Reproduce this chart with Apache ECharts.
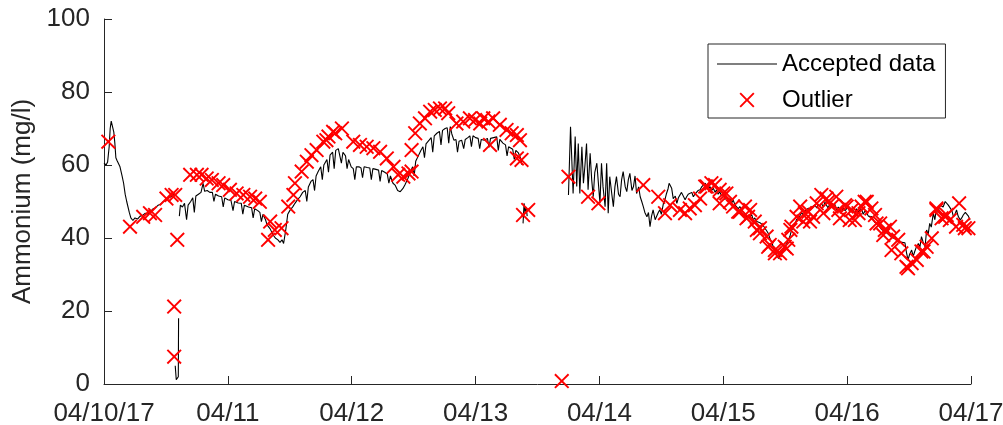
<!DOCTYPE html>
<html>
<head>
<meta charset="utf-8">
<script src="https://cdn.jsdelivr.net/npm/echarts@6/dist/echarts.min.js"></script>
<style>
html,body{margin:0;padding:0;background:#fff;}
#chart{width:1003px;height:425px;}
</style>
</head>
<body>
<div id="chart"></div>
<script>
// x tick labels (one per day, axis in hours from 04/10/17 00:00)
var xTickLabels = ['04/10/17','04/11','04/12','04/13','04/14','04/15','04/16','04/17'];

// Accepted data: hours and values (null = gap)
var lineHours = [
0,0.4,0.7,0.9,1.0,1.2,1.4,1.6,1.9,2.1,2.3,2.5,2.8,3.1,3.5,3.8,4.1,4.4,4.6,4.9,5.2,5.6,6.0,6.5,7.0,7.5,8.0,8.5,9.0,9.5,10.0,10.5,11.0,11.5,12.0,12.5,13.0,13.4,13.7,
13.75,
13.8,14.0,14.2,14.4,14.45,
14.5,
14.6,14.8,15.2,15.6,16.0,16.3,16.8,17.2,17.5,17.8,18.3,18.8,19.2,19.5,20.0,20.5,21.0,21.3,21.6,22.2,22.8,23.1,23.4,24.0,24.6,25.0,25.3,26.0,26.6,26.9,27.2,28.0,28.6,28.9,29.2,29.8,30.2,30.5,30.8,31.3,31.6,32.2,32.7,33.2,33.7,34.1,34.5,34.8,35.2,35.6,36.0,36.6,37.0,37.5,38.0,38.5,39.0,39.3,39.6,40.1,40.5,40.8,41.1,41.5,42.0,42.3,42.6,43.2,43.5,43.8,44.3,44.6,44.9,45.4,45.7,46.0,46.3,46.8,47.1,47.4,47.9,48.3,48.6,48.9,49.4,49.8,50.1,50.4,51.0,51.5,51.8,52.1,52.7,53.2,53.5,53.8,54.4,54.9,55.2,55.5,56.0,56.4,56.9,57.4,57.9,58.3,58.8,59.3,59.8,60.1,60.4,60.9,61.4,61.8,62.1,62.4,63.0,63.4,63.7,64.0,64.5,65.0,65.3,65.6,66.1,66.5,66.8,67.1,67.4,67.8,68.2,68.5,68.8,69.3,69.7,70.0,70.5,70.9,71.2,71.5,72.0,72.5,72.8,73.1,73.7,74.3,74.6,74.9,75.5,76.1,76.4,76.7,77.3,77.8,78.1,78.4,78.7,79.2,79.5,79.8,80.3,80.7,81.0,
81.1,
81.2,81.4,81.6,81.8,82.0,
82.2,
90.0,90.4,90.9,91.3,91.6,91.9,92.2,92.6,92.9,93.2,93.5,93.8,94.2,94.5,94.8,95.1,95.5,95.8,96.1,96.4,96.7,97.1,97.4,97.7,98.0,98.4,98.7,99.0,99.3,99.7,100.0,100.3,100.6,101.0,101.3,101.6,101.9,102.3,102.6,102.9,103.2,103.6,103.9,104.2,104.5,104.8,105.2,105.5,105.8,106.1,106.4,106.8,107.1,107.4,107.7,108.0,108.4,108.7,109.0,109.3,109.5,109.8,110.0,110.3,110.7,111.0,111.3,111.6,111.9,112.2,112.6,112.9,113.2,113.5,113.9,114.2,114.5,114.8,115.1,115.5,115.8,116.1,116.5,116.8,117.1,117.4,117.7,118.1,118.4,118.7,119.0,119.3,119.7,120.0,120.3,120.6,121.0,121.3,121.6,121.9,122.3,122.6,122.9,123.2,123.6,123.9,124.2,124.5,124.8,125.2,125.5,125.8,126.1,126.5,126.8,127.1,127.4,127.7,128.0,128.4,128.7,129.0,129.3,129.7,130.0,130.4,130.7,131.0,131.3,131.6,131.9,132.3,132.6,132.9,133.2,133.6,133.9,134.2,134.6,134.9,135.2,135.5,135.9,136.2,136.5,136.8,137.1,137.4,137.8,138.1,138.4,138.7,139.0,139.4,139.7,140.0,140.3,140.7,141.0,141.3,141.6,141.9,142.3,142.6,142.9,143.2,143.6,143.9,144.2,144.5,144.9,145.2,145.5,145.8,146.2,146.5,146.8,147.1,147.5,147.8,148.1,148.4,148.8,149.1,149.4,149.7,150.1,150.4,150.7,151.0,151.4,151.7,152.0,152.3,152.6,152.9,153.3,153.6,153.9,154.2,154.6,154.9,155.2,155.5,155.8,156.1,156.5,156.8,157.1,157.4,157.8,158.1,158.4,158.7,159.1,159.4,159.7,160.0,160.3,160.7,161.0,161.3,161.6,162.0,162.3,162.6,163.0,163.3,163.6,163.9,164.3,164.6,164.9,165.2,165.5,165.9,166.2,166.5,166.9,167.2,167.5,167.8
];
var lineValues = [
60.5,60,60.8,60.5,65,70,72,71.5,69,66,62,61.3,61,59.5,57,55,52,50,49.5,47,45.5,44.8,45.5,45.2,46,46.2,46.8,46.5,47.3,48,48.3,49,49.3,50,50.3,51,51.3,52,51.5,
null,
5,1.2,0.8,2,18,
null,
46,49,48.5,49.5,45,49,50,51,47,51.5,52,52.5,55,52.8,53,52.5,52.5,50,52,51.5,51.3,48.5,51,50.5,50.3,47.5,50,49.6,49.5,46.5,49,48.5,48.3,45.5,48,47.5,47,44.5,46.5,45,43.6,42.5,41,40,39.5,38.8,39.5,38.5,42,46.5,47.5,48.6,49.5,50.5,51.3,52.5,53,50,54,55.5,56,53,57,58.2,59.5,56,60,61.5,58,62.7,63.5,59,64,64.5,64.6,60.5,63.5,62.5,59,61.5,59.5,59,56,59.5,59.5,59.2,56.5,59.5,59.3,59.2,56,59,58.8,58.6,55.5,58.5,58,57.5,55,57,55,54.5,53,52.7,53.5,54.5,56,57.8,59.5,57,61,62.5,64,65,62,65.8,66.8,67.5,63.5,68,68.7,69.2,65.5,69.5,70,70.2,66,70.5,68.5,66.8,67,63.5,66.5,66.8,64.5,67,67.5,68,65,68,67.5,67.3,64.5,67,66.8,67.3,64.8,67.3,67.5,67.7,64,67,66,65.5,62.5,65,64.6,64.3,61.5,64,63.3,62,60,
null,
44,49.5,47,48.5,46,
null,
51.8,70.5,52.2,67.8,54.1,65.9,52.2,65,55,60,65.9,53.2,63.2,56,51.3,58,60.5,55,49.5,60.5,54,48.6,60.5,46.8,56.8,52,48.6,54,56.8,52,51.3,56,58.2,54,52.7,56,57.7,53,54.1,57,52.2,54,51.3,50,48.6,47,45.8,47,43.1,46,47.7,45,44.9,47,47.7,46.5,49.5,50.5,52.2,53.5,55,54.5,53.6,50.8,51.5,49.5,51,51.3,52.5,52.7,50.5,51.3,52,51.8,52.5,51.3,52,52.2,53,53.2,54,54.1,55,54.5,53.5,54.1,53,53.6,52.5,53.2,52,52.7,51.5,52.2,50.5,51.3,50,50.8,49.5,50.4,49,49.5,48,48.6,47.5,47.8,46.5,46.8,45.5,45.8,46.5,44.9,45.5,44.5,45,44.2,44.5,43.5,43,42,41.3,40,39,37.6,36.5,35.2,34.4,35.5,35.3,36.5,37.6,38.5,39.5,40.4,42,43,44,45,45.5,45.8,47,46.2,47.5,47.2,48.2,47.5,48.5,48.1,49,48.2,49.2,48.6,49.5,48.5,49.8,49,48.2,49.5,48.3,48.6,49.3,47.8,48.5,48.1,47,48.3,47.5,47.7,48.5,47,48,47.7,46.8,48,47.2,47.2,48,46.5,47.5,46.8,46,45.5,45.8,44.9,44.2,44.5,43.5,43.1,42.3,42.8,41.7,41.7,41,40.8,40.2,40.4,39.8,40,39.3,39.5,38.8,39,38.7,36,34,35.5,36.7,35,36.3,37.5,38.5,37.5,40.4,39,37.6,42.2,41,44,43,46.8,45,48.1,47,49,49.5,48.5,50,49.6,49,48.6,47.5,45.8,46.5,47.7,46,44.9,45.5,46.3,47,46.8,46,44.9
];

// Outliers: hours and values
var outlierHours = [
0.84,5.04,7.6,8.9,9.9,12.1,13.1,13.8,14.2,13.6,13.6,16.7,18.0,18.9,19.9,20.9,22.2,23.1,24.4,25.7,27.0,28.3,29.3,30.2,31.8,32.2,33.1,34.4,35.7,36.7,37.0,38.3,39.3,40.2,41.2,42.5,43.1,43.5,44.4,44.8,46.1,48.3,49.6,50.9,52.2,53.5,54.8,56.1,57.0,58.0,59.0,59.6,59.6,60.3,61.2,62.2,63.2,64.1,65.1,66.1,66.7,68.3,69.6,70.9,71.9,72.9,73.5,74.5,74.8,75.4,76.7,78.0,79.0,80.0,80.6,80.0,80.9,81.2,82.2,
88.7,90.0,93.8,95.8,104.5,107.4,108.7,109.7,111.6,112.6,113.5,114.5,115.5,116.5,116.8,117.7,118.4,119.3,119.3,120.0,120.6,121.3,121.9,122.9,123.2,124.2,124.5,124.8,125.2,126.1,126.5,127.1,127.1,128.4,128.7,129.0,130.0,130.0,131.0,131.9,132.3,132.6,133.0,133.2,134.2,134.9,135.5,135.8,136.5,136.8,137.4,138.1,139.0,139.4,140.0,140.3,141.0,141.9,142.3,142.6,143.6,143.9,144.5,144.9,145.5,146.2,146.8,147.4,147.8,148.7,149.4,149.7,150.4,151.0,151.3,152.3,152.6,152.9,153.9,154.5,155.5,155.8,156.5,157.5,158.4,158.8,159.4,160.4,161.3,161.3,162.3,163.0,163.3,163.9,165.1,165.7,166.5,166.8,167.5
];
var outlierValues = [
66.4,43.1,45.8,46.8,46.3,50.8,51.8,51.8,39.5,21.2,7.5,57.3,57.3,57.3,56.3,55.9,55,54.5,53.2,52.2,51.8,51.3,50.8,49.9,39.5,44.5,42.2,42.7,48.6,51.8,55,58.2,60.9,62.7,64.1,66.4,66.8,67.8,69.1,68.7,70,66.4,65.5,65,64.6,63.6,61.8,59.5,57.3,56.8,57.7,58.2,64.1,68.7,71.4,72.8,74.6,75.1,75.5,75.5,74.2,71.4,71.9,72.8,72.3,71.4,72.8,71.9,65.5,72.8,71,69.6,68.7,68.2,66.8,61.8,61.4,46.3,47.7,
0.8,56.8,51.3,49.5,54.5,51.3,46.8,49,47.7,46.8,48.1,49,50.8,54.1,54.1,55,54.5,53.2,49.5,52.2,52.2,49.9,48.6,47.2,47.2,48.6,45.4,45.8,47.7,44.5,42.2,42.7,41.3,40.4,37.6,38.1,36.7,35.8,35.8,37.6,37.1,39.5,42.2,43.1,45.8,48.6,44.5,46.8,47.2,44.5,45.8,49.5,51.8,46.8,50.8,49.9,48.6,51.3,47.7,45.4,49,48.6,44.9,47.7,44.9,46.8,48.6,49.9,49.9,48.1,46.3,44,44,40.8,42.2,43.1,36.7,40.4,39.5,35.8,32.1,31.7,33.1,34,36.3,36.3,37.6,39.9,47.7,48.1,45.4,45.8,46.3,44.9,43.1,49.5,43.6,42.7,42.7
];

var lineData = lineHours.map(function(h, i){ return [h, lineValues[i]]; });
var outlierData = outlierHours.map(function(h, i){ return [h, outlierValues[i]]; });

var FONT = 'Liberation Sans, Arial, Helvetica, sans-serif';
var AX = '#262626';
var xPath = 'path://M0,9L9,0L50,41L91,0L100,9L59,50L100,91L91,100L50,59L9,100L0,91L41,50Z';
var linePath = 'path://M0,0L60,0L60,1.1L0,1.1Z';

var chart = echarts.init(document.getElementById('chart'), null, {renderer:'canvas'});
chart.setOption({
  animation: false,
  backgroundColor: '#ffffff',
  textStyle: {fontFamily: FONT},
  grid: {left: 104, right: 32, top: 19, bottom: 41, containLabel: false, outerBoundsMode: 'none'},
  legend: {
    orient: 'vertical',
    left: 708, top: 44,
    padding: [8, 10, 6, 9],
    itemWidth: 60, itemHeight: 15,
    itemGap: 12,
    borderColor: '#262626', borderWidth: 1,
    backgroundColor: '#ffffff',
    textStyle: {fontFamily: FONT, fontSize: 24, color: '#000', lineHeight: 24},
    data: [
      {name: 'Accepted data', icon: linePath, itemStyle: {color: '#000000'}},
      {name: 'Outlier', icon: xPath, itemStyle: {color: '#ff0000'}}
    ]
  },
  xAxis: {
    type: 'value', min: 0, max: 168, interval: 24,
    axisLine: {show: true, lineStyle: {color: AX, width: 1}},
    axisTick: {show: true, inside: true, length: 8, lineStyle: {color: AX, width: 1}},
    axisLabel: {
      show: true, margin: 17, fontSize: 26, color: AX, fontFamily: FONT,
      formatter: function(v){ return xTickLabels[Math.round(v/24)]; }
    },
    splitLine: {show: false}
  },
  yAxis: {
    type: 'value', min: 0, max: 100, interval: 20,
    name: 'Ammonium (mg/l)', nameLocation: 'middle', nameGap: 66,
    nameTextStyle: {fontSize: 26, color: AX, fontFamily: FONT},
    axisLine: {show: true, lineStyle: {color: AX, width: 1}},
    axisTick: {show: true, inside: true, length: 8, lineStyle: {color: AX, width: 1}},
    axisLabel: {show: true, margin: 14, fontSize: 26, color: AX, fontFamily: FONT},
    splitLine: {show: false}
  },
  series: [
    {
      name: 'Accepted data', type: 'line', data: lineData,
      symbol: 'none', showSymbol: false, connectNulls: false,
      lineStyle: {color: '#000000', width: 1.1},
      itemStyle: {color: '#000000'},
      z: 2
    },
    {
      name: 'Outlier', type: 'scatter', data: outlierData,
      symbol: xPath, symbolSize: 15,
      itemStyle: {color: '#ff0000', opacity: 1},
      z: 3
    }
  ]
});
</script>
</body>
</html>
